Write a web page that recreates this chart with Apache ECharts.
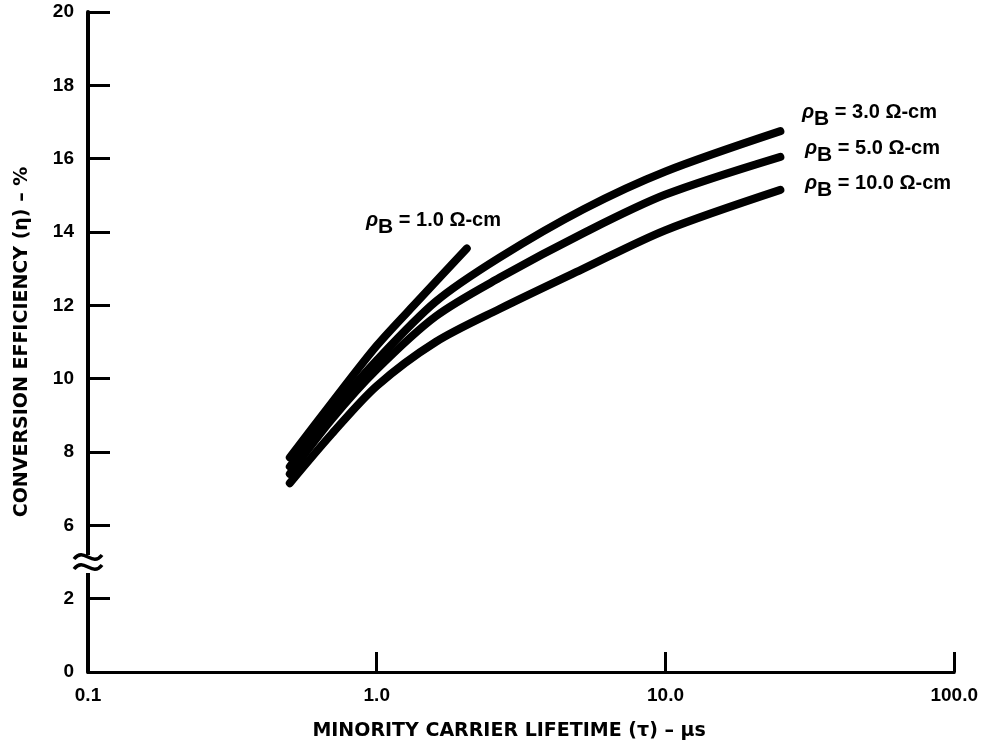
<!DOCTYPE html>
<html><head><meta charset="utf-8">
<script src="https://cdn.jsdelivr.net/npm/echarts@6/dist/echarts.min.js"></script>
<style>html,body{margin:0;padding:0;background:#fff}#c{width:981px;height:746px}</style>
</head><body><div id="c"></div>
<script>
// Data (efficiency in %, lifetime in microseconds)
const tauLow = [0.5, 0.7, 1.0, 1.4, 2.05];
const effRho1 = [7.85, 9.35, 10.9, 12.15, 13.55];
const tauHigh = [0.5, 0.7, 1.0, 1.6, 2.66, 5.2, 10, 25];
const effRho3 = [7.6, 9.1, 10.5, 12.1, 13.3, 14.62, 15.65, 16.75];
const effRho5 = [7.4, 8.9, 10.25, 11.7, 12.75, 13.97, 15.02, 16.05];
const effRho10 = [7.15, 8.5, 9.8, 11.0, 11.9, 13.0, 14.05, 15.15];
const xTickLabels = ['0.1', '1.0', '10.0', '100.0'];
const yBreakShift = 2; // values above the axis break are shifted down by 2

const FONT = 'Liberation Sans';
const NAMEFONT = 'DejaVu Sans';
function pts(xs, ys) { return xs.map((x, i) => [x, ys[i] - yBreakShift]); }
function line(name, data) {
  return { name, type: 'line', data, smooth: 0.3, showSymbol: false,
    lineStyle: { color: '#000', width: 8, cap: 'round', join: 'round' } };
}
const chart = echarts.init(document.getElementById('c'));
const lbl = (x, y, txt) => ({
  type: 'text', left: x, top: y, z: 10,
  style: { rich: {
      r: { font: 'italic bold 20px ' + FONT, fill: '#000' },
      b: { font: 'bold 21px ' + FONT, fill: '#000', padding: [14, 0, 0, 0] },
      t: { font: 'bold 20px ' + FONT, fill: '#000' } },
    text: '{r|ρ}{b|B}{t| ' + txt + '}' }
});
chart.setOption({
  animation: false,
  backgroundColor: '#fff',
  grid: { left: 88, right: 26, top: 12, bottom: 74 },
  xAxis: {
    type: 'log', min: 0.1, max: 100, logBase: 10,
    name: 'MINORITY CARRIER LIFETIME (τ) – μs', nameLocation: 'middle', nameGap: 50,
    nameTextStyle: { fontFamily: NAMEFONT, fontWeight: 'bold', fontSize: 19, color: '#000', padding: [0, 24, 0, 0] },
    axisLine: { lineStyle: { color: '#000', width: 3 } },
    axisTick: { inside: true, length: 20, lineStyle: { color: '#000', width: 3 } },
    minorTick: { show: false }, splitLine: { show: false },
    axisLabel: { margin: 14, fontFamily: FONT, fontWeight: 'bold', fontSize: 19, color: '#000',
      formatter: v => xTickLabels[Math.round(Math.log10(v)) + 1] }
  },
  yAxis: {
    type: 'value', min: 0, max: 18, interval: 2,
    name: 'CONVERSION EFFICIENCY (η) – %', nameLocation: 'middle', nameGap: 56,
    nameTextStyle: { fontFamily: NAMEFONT, fontWeight: 'bold', fontSize: 19, color: '#000' },
    axisLine: { lineStyle: { color: '#000', width: 4 } },
    axisTick: { inside: true, length: 22, lineStyle: { color: '#000', width: 3 } },
    splitLine: { show: false },
    axisLabel: { margin: 14, fontFamily: FONT, fontWeight: 'bold', fontSize: 19, color: '#000',
      formatter: v => String(v <= 2 ? v : v + yBreakShift) }
  },
  series: [
    line('1.0', pts(tauLow, effRho1)),
    line('3.0', pts(tauHigh, effRho3)),
    line('5.0', pts(tauHigh, effRho5)),
    line('10.0', pts(tauHigh, effRho10))
  ],
  graphic: [
    lbl(366, 210, '= 1.0 Ω-cm'),
    lbl(802, 102, '= 3.0 Ω-cm'),
    lbl(805, 138, '= 5.0 Ω-cm'),
    lbl(805, 173, '= 10.0 Ω-cm'),
    { type: 'rect', shape: { x: 84, y: 555, width: 8, height: 18 }, style: { fill: '#fff' }, z: 20 },
    { type: 'bezierCurve', z: 21, shape: { x1: 74, y1: 559, x2: 102, y2: 555, cpx1: 84, cpy1: 546, cpx2: 92, cpy2: 568 },
      style: { stroke: '#000', lineWidth: 3.5, fill: null } },
    { type: 'bezierCurve', z: 21, shape: { x1: 74, y1: 569, x2: 102, y2: 565, cpx1: 84, cpy1: 556, cpx2: 92, cpy2: 578 },
      style: { stroke: '#000', lineWidth: 3.5, fill: null } }
  ]
});
</script></body></html>
